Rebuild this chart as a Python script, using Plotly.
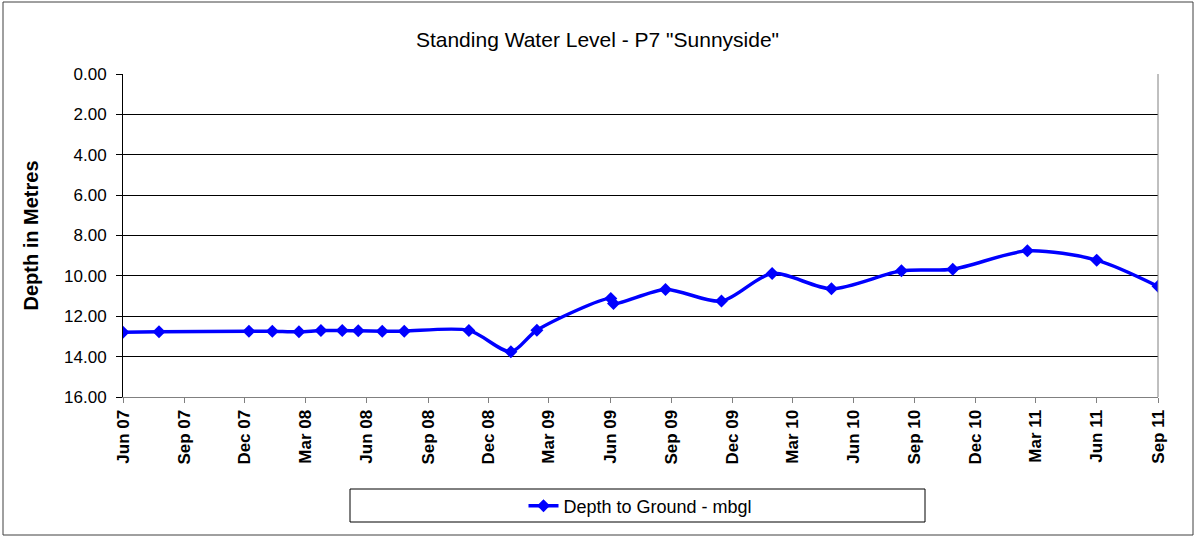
import plotly.graph_objects as go

dates = ["2007-06-01", "2007-07-25", "2007-12-07", "2008-01-11", "2008-02-20",
         "2008-03-24", "2008-04-25", "2008-05-19", "2008-06-24", "2008-07-27",
         "2008-11-01", "2009-01-03", "2009-02-11", "2009-06-02", "2009-06-06",
         "2009-08-23", "2009-11-15", "2010-01-30", "2010-04-29", "2010-08-12",
         "2010-10-28", "2011-02-17", "2011-06-01", "2011-09-01"]
depth = [12.79, 12.77, 12.74, 12.74, 12.77, 12.71, 12.71, 12.72, 12.74, 12.74,
         12.70, 13.76, 12.69, 11.12, 11.37, 10.67, 11.25, 9.88, 10.64, 9.75,
         9.67, 8.76, 9.22, 10.52]

tick_dates = ["2007-06-01", "2007-09-01", "2007-12-01", "2008-03-01", "2008-06-01",
              "2008-09-01", "2008-12-01", "2009-03-01", "2009-06-01", "2009-09-01",
              "2009-12-01", "2010-03-01", "2010-06-01", "2010-09-01", "2010-12-01",
              "2011-03-01", "2011-06-01", "2011-09-01"]
tick_labels = ["Jun 07", "Sep 07", "Dec 07", "Mar 08", "Jun 08", "Sep 08", "Dec 08",
               "Mar 09", "Jun 09", "Sep 09", "Dec 09", "Mar 10", "Jun 10", "Sep 10",
               "Dec 10", "Mar 11", "Jun 11", "Sep 11"]
y_ticks = [0, 2, 4, 6, 8, 10, 12, 14, 16]

fig = go.Figure()
fig.add_trace(go.Scatter(
    x=dates, y=depth, mode="lines+markers", name="Depth to Ground - mbgl",
    line=dict(color="#0000FF", width=3.5, shape="spline", smoothing=0.8),
    marker=dict(symbol="diamond", size=10, color="#0000FF"),
))

W, H = 1195, 537
L, R, T, B = 123, 37, 74, 140
pw, ph = W - L - R, H - T - B

def px(p):
    return (p - L) / pw

def py(p):
    return (H - B - p) / ph

FONT = "Liberation Sans, Arial, sans-serif"

fig.update_layout(
    width=W, height=H,
    margin=dict(l=L, r=R, t=T, b=B),
    paper_bgcolor="white", plot_bgcolor="white",
    font=dict(family=FONT, color="black", size=16),
    title=dict(text='Standing Water Level - P7 "Sunnyside"', x=0.5, xanchor="center",
               y=1 - 40 / H, yanchor="middle", font=dict(size=21)),
    showlegend=True,
    legend=dict(orientation="h", x=0.5, xanchor="center", y=py(506), yanchor="middle",
                font=dict(size=18), bgcolor="rgba(0,0,0,0)"),
    xaxis=dict(type="date", range=["2007-06-01", "2011-09-01"],
               tickvals=tick_dates, ticktext=tick_labels, tickangle=-90,
               tickfont=dict(size=17, family=FONT, weight="bold"),
               ticks="outside", ticklen=5, tickcolor="#808080",
               showgrid=False, showline=True, linecolor="#808080", linewidth=1,
               zeroline=False),
    yaxis=dict(range=[16, 0], tickvals=y_ticks, tickformat=".2f",
               ticks="outside", ticklen=6, tickcolor="black",
               ticklabelstandoff=6, tickfont=dict(size=17),
               showgrid=True, gridcolor="black", gridwidth=1,
               showline=True, linecolor="black", linewidth=1, zeroline=False,
               title=dict(text="<b>Depth in Metres</b>", font=dict(size=20), standoff=20)),
    shapes=[
        dict(type="line", xref="paper", yref="paper", x0=px(1158), x1=px(1158), y0=0, y1=1,
             line=dict(color="#808080", width=1)),
        dict(type="rect", xref="paper", yref="paper", x0=px(350), x1=px(925),
             y0=py(522), y1=py(489), line=dict(color="black", width=1)),
        dict(type="rect", xref="paper", yref="paper", x0=px(3), x1=px(1193),
             y0=py(535), y1=py(2), line=dict(color="#404040", width=1)),
    ],
)

fig.write_html("out.html", config={"displayModeBar": False},
               post_script="document.body.style.margin='0px';")
